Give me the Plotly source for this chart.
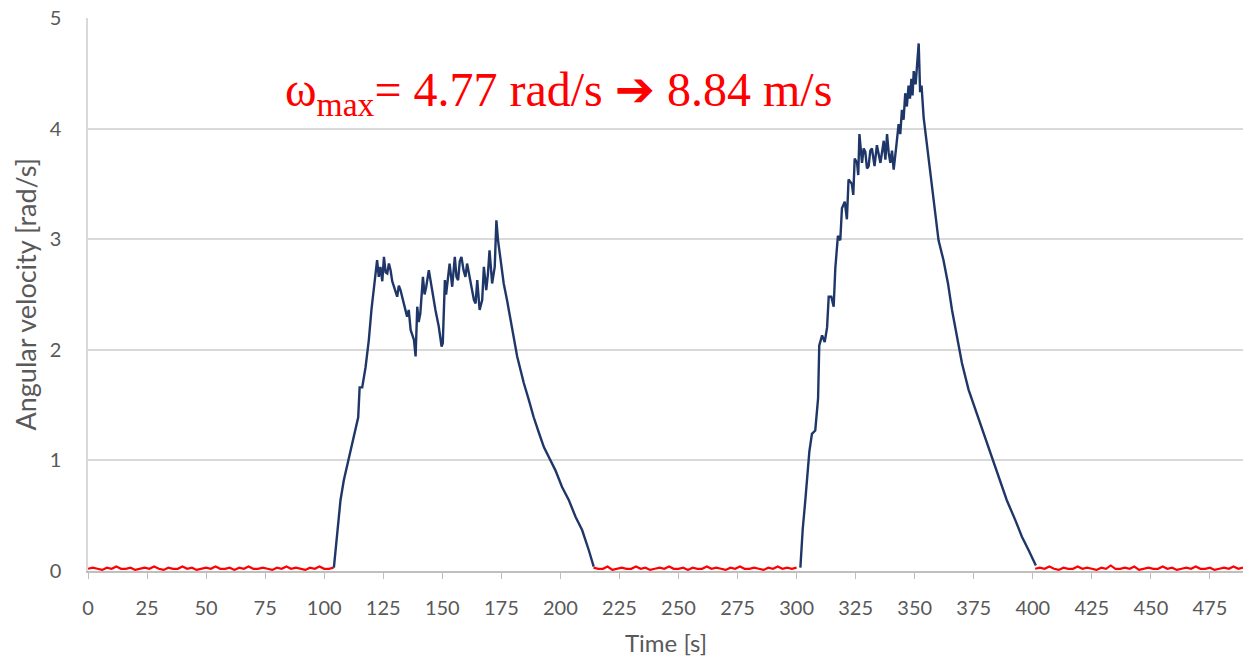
import plotly.graph_objects as go

# ---------------- data ----------------
# stationary phases (red), sampled every 2 s
rest1_start = 0
rest1_v = [0.02, 0.03, 0.02, 0.01, 0.03, 0.02, 0.04, 0.02, 0.02, 0.03,
           0.01, 0.02, 0.03, 0.02, 0.04, 0.02, 0.01, 0.03, 0.02, 0.02,
           0.04, 0.02, 0.03, 0.01, 0.02, 0.03, 0.02, 0.04, 0.02, 0.02,
           0.03, 0.01, 0.03, 0.02, 0.04, 0.02, 0.02, 0.03, 0.02, 0.01,
           0.03, 0.02, 0.04, 0.02, 0.03, 0.02, 0.01, 0.03, 0.02, 0.04,
           0.02, 0.02, 0.03]
rest2_start = 214
rest2_v = [0.03, 0.02, 0.02, 0.04, 0.01, 0.02, 0.03, 0.02, 0.02, 0.04,
           0.02, 0.03, 0.01, 0.02, 0.03, 0.02, 0.04, 0.02, 0.02, 0.03,
           0.01, 0.03, 0.02, 0.02, 0.04, 0.02, 0.03, 0.02, 0.01, 0.03,
           0.02, 0.04, 0.02, 0.02, 0.03, 0.02, 0.01, 0.03, 0.02, 0.04,
           0.02, 0.03, 0.02, 0.03]
rest3_start = 401
rest3_v = [0.02, 0.03, 0.02, 0.04, 0.02, 0.01, 0.03, 0.02, 0.02, 0.04,
           0.02, 0.03, 0.02, 0.01, 0.03, 0.02, 0.05, 0.02, 0.02, 0.03,
           0.02, 0.04, 0.01, 0.02, 0.03, 0.02, 0.02, 0.04, 0.02, 0.03,
           0.01, 0.02, 0.03, 0.02, 0.04, 0.02, 0.02, 0.03, 0.01, 0.02,
           0.03, 0.02, 0.04, 0.02, 0.03]
rest_step = 2

# first run (dark blue)
run1_t = [104.1, 105.5, 106.9, 108.3, 110.5, 111.9, 113.3, 114.4, 115.0, 116.1,
          117.5, 118.9, 120.0, 121.0, 122.4, 123.1, 123.8, 124.6, 125.3, 126.0,
          126.7, 127.4, 128.1, 128.8, 129.5, 130.9, 131.6, 132.3, 133.7, 135.1,
          135.8, 136.6, 138.0, 138.7, 139.4, 140.0, 140.7, 141.8, 142.5, 143.2,
          144.3, 145.0, 145.7, 147.1, 148.5, 149.7, 150.2, 151.1, 151.6, 152.1,
          152.6, 153.1, 154.2, 154.8, 155.3, 156.0, 156.7, 157.4, 158.1, 159.0,
          159.8, 160.5, 161.2, 162.0, 162.6, 163.4, 164.1, 164.8, 165.8, 166.9,
          167.6, 168.6, 169.3, 170.0, 170.6, 171.1, 172.2, 172.9, 173.6, 174.6,
          176.0, 177.4, 178.9, 180.3, 181.7, 183.1, 184.5, 186.6, 188.7, 190.9,
          193.0, 195.1, 197.9, 200.7, 203.6, 206.4, 209.2, 212.0, 214.1]
run1_v = [0.03, 0.34, 0.64, 0.82, 1.03, 1.18, 1.30, 1.39, 1.66, 1.66,
          1.84, 2.09, 2.36, 2.57, 2.81, 2.66, 2.75, 2.62, 2.84, 2.70,
          2.69, 2.78, 2.72, 2.62, 2.57, 2.48, 2.58, 2.54, 2.42, 2.30,
          2.36, 2.18, 2.09, 1.94, 2.39, 2.25, 2.33, 2.66, 2.50, 2.57,
          2.72, 2.62, 2.54, 2.36, 2.21, 2.03, 2.06, 2.63, 2.50, 2.60,
          2.70, 2.78, 2.57, 2.70, 2.84, 2.66, 2.63, 2.80, 2.84, 2.72,
          2.66, 2.78, 2.69, 2.60, 2.54, 2.45, 2.42, 2.63, 2.36, 2.45,
          2.75, 2.54, 2.68, 2.90, 2.70, 2.60, 2.75, 3.17, 2.99, 2.84,
          2.60, 2.45, 2.27, 2.09, 1.94, 1.82, 1.70, 1.55, 1.39, 1.25,
          1.12, 1.03, 0.91, 0.76, 0.64, 0.49, 0.37, 0.19, 0.04]

# second run (dark blue)
run2_t = [301.6, 302.6, 303.7, 304.4, 305.4, 306.5, 307.9, 309.1, 309.6, 310.8,
          311.9, 312.9, 313.6, 314.7, 315.7, 316.4, 317.5, 318.5, 319.2, 320.4,
          321.3, 322.0, 323.4, 324.0, 324.6, 325.6, 326.1, 326.6, 327.7, 328.4,
          329.1, 329.8, 330.5, 331.2, 331.9, 333.0, 333.5, 334.0, 335.5, 336.2,
          336.9, 337.6, 338.3, 339.0, 339.7, 340.4, 341.1, 342.1, 343.2, 343.9,
          344.6, 345.3, 346.0, 346.7, 347.4, 348.0, 348.6, 349.1, 349.6, 350.4,
          351.0, 351.7, 352.3, 352.9, 353.8, 355.2, 356.6, 358.0, 360.1, 362.2,
          364.1, 365.8, 367.9, 370.0, 372.8, 375.7, 379.2, 382.7, 385.5, 389.0,
          392.6, 395.4, 398.2, 401.3]
run2_v = [0.03, 0.38, 0.64, 0.80, 1.08, 1.24, 1.27, 1.56, 2.04, 2.13,
          2.07, 2.20, 2.48, 2.48, 2.39, 2.74, 3.03, 2.99, 3.28, 3.34,
          3.18, 3.54, 3.50, 3.40, 3.73, 3.69, 3.58, 3.95, 3.69, 3.82,
          3.79, 3.64, 3.66, 3.80, 3.82, 3.66, 3.78, 3.85, 3.69, 3.80,
          3.89, 3.72, 3.95, 3.78, 3.69, 3.80, 3.63, 3.82, 4.04, 3.95,
          4.17, 4.08, 4.32, 4.20, 4.39, 4.27, 4.45, 4.30, 4.52, 4.40,
          4.62, 4.77, 4.33, 4.39, 4.10, 3.84, 3.63, 3.35, 2.99, 2.81,
          2.60, 2.36, 2.12, 1.88, 1.64, 1.46, 1.25, 1.03, 0.85, 0.64,
          0.46, 0.31, 0.19, 0.05]

x_ticks = list(range(0, 476, 25))
y_ticks = [0, 1, 2, 3, 4, 5]
annotation_text = ("ω<sub>max</sub>= 4.77 rad/s "
                   "<span style='font-family:DejaVu Sans'><b>➔</b></span>"
                   " 8.84 m/s")
x_title = "Time [s]"
y_title = "Angular velocity [rad/s]"

RED = "#ff0000"
BLUE = "#1f3768"
GRID = "#d9d9d9"
TXT = "#595959"

fig = go.Figure()

for start, vals in [(rest1_start, rest1_v), (rest2_start, rest2_v), (rest3_start, rest3_v)]:
    ts = [start + rest_step * i for i in range(len(vals))]
    fig.add_trace(go.Scatter(x=ts, y=vals, mode="lines",
                             line=dict(color=RED, width=2.2), hoverinfo="skip"))

for ts, vals in [(run1_t, run1_v), (run2_t, run2_v)]:
    fig.add_trace(go.Scatter(x=ts, y=vals, mode="lines",
                             line=dict(color=BLUE, width=2.4), hoverinfo="skip"))

W, H = 1243, 659
L, R, T, B = 88, 0, 18, 88

fig.update_layout(
    width=W, height=H,
    margin=dict(l=L, r=R, t=T, b=B, pad=0),
    paper_bgcolor="white", plot_bgcolor="white",
    showlegend=False,
    font=dict(family="Lato, Open Sans, sans-serif", color=TXT),
)

fig.update_xaxes(
    range=[0, 489], tickmode="array", tickvals=x_ticks,
    ticktext=[str(v) for v in x_ticks],
    showgrid=False, zeroline=False,
    showline=True, linecolor="#bfbfbf", linewidth=1.5,
    ticks="outside", ticklen=6, tickcolor="#bfbfbf", tickwidth=1,
    tickfont=dict(size=20, color=TXT), ticklabelstandoff=12,
)
fig.update_yaxes(
    range=[0, 5], tickmode="array", tickvals=y_ticks,
    ticktext=[str(v) for v in y_ticks],
    showgrid=True, gridcolor=GRID, gridwidth=1.5,
    zeroline=False, showline=True, linecolor=GRID, linewidth=1.5,
    ticks="", tickfont=dict(size=20, color=TXT), ticklabelstandoff=21,
)

fig.add_annotation(
    x=0.1688, xref="paper", y=4.33, yref="y",
    xanchor="left", yanchor="middle",
    text=annotation_text, showarrow=False,
    font=dict(family="Liberation Serif, Times New Roman, serif", size=48, color=RED),
)
fig.add_annotation(
    x=0.5, xref="paper", y=-(642 - 571) / (571 - 18), yref="paper",
    xanchor="center", yanchor="middle",
    text=x_title, showarrow=False,
    font=dict(size=24, color=TXT),
)
fig.add_annotation(
    x=-(88 - 25) / 1155, xref="paper", y=0.5, yref="paper",
    xanchor="center", yanchor="middle", textangle=-90,
    text=y_title, showarrow=False,
    font=dict(size=27, color=TXT),
)

fig.write_html("out.html")
